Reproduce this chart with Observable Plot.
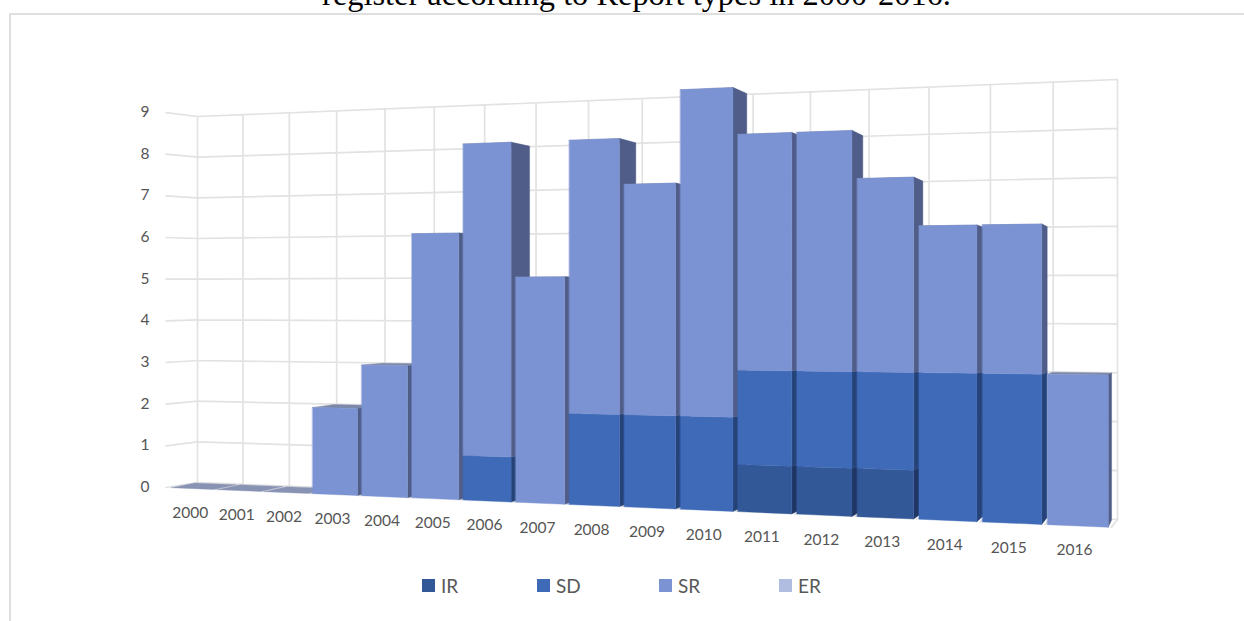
<!DOCTYPE html>
<html>
<head>
<meta charset="utf-8">
<script src="https://cdn.jsdelivr.net/npm/d3@7"></script>
<script src="https://cdn.jsdelivr.net/npm/@observablehq/plot@0.6"></script>
<style>
html,body{margin:0;padding:0;background:#fff;width:1244px;height:621px;overflow:hidden}
#page{position:relative;width:1244px;height:621px;overflow:hidden}
#frame{position:absolute;left:9px;top:13px;right:-5px;bottom:-5px;border-left:2px solid #dfdfdf;border-top:2px solid #dfdfdf}
#title{position:absolute;left:0;width:1273px;top:-24px;text-align:center;font:32.4px/36px "Liberation Serif",serif;color:#000;white-space:nowrap}
#chart{position:absolute;left:0;top:0}
#chart svg{display:block;background:transparent}
#legend{position:absolute;left:0;top:572px;width:1244px;height:30px;font:19px/28px Lato,sans-serif;color:#595959}
#legend span{position:absolute;top:0}
#legend i{position:absolute;top:7px;width:13px;height:13px}
</style>
</head>
<body>
<div id="page">
  <div id="frame"></div>
  <div id="title">register according to Report types in 2000-2016.</div>
  <div id="chart"></div>
  <div id="legend"></div>
</div>
<script>
const years = [2000,2001,2002,2003,2004,2005,2006,2007,2008,2009,2010,2011,2012,2013,2014,2015,2016];
const IR    = [0,0,0,0,0,0,0,0,0,0,0,1,1,1,0,0,0];
const SD    = [0,0,0,0,0,0,1,0,2,2,2,2,2,2,3,3,0];
const SR    = [0,0,0,2,3,6,7,5,6,5,7,5,5,4,3,3,3];
const ER    = [0,0,0,0,0,0,0,0,0,0,0,0,0,0,0,0,0];
const valueTicks = [0,1,2,3,4,5,6,7,8,9];
const seriesNames = ["IR","SD","SR","ER"];
const seriesValues = [IR,SD,SR,ER];
const frontColors = ["#335897","#3e6ab8","#7b93d2","#b0bde0"];
const sideColors  = ["#1f3664","#254379","#4f5d88","#7a86a8"];
const topColor = "#7d89aa";
const slabColor = "#8893b4";
const gridColor = "#e2e2e2";

// perspective camera: a plane homography for the front of the bars and one for the back wall
function quad(p00,p10,p11,p01){
  const [x0,y0]=p00,[x1,y1]=p10,[x2,y2]=p11,[x3,y3]=p01;
  const dx1=x1-x2,dx2=x3-x2,sx=x0-x1+x2-x3,dy1=y1-y2,dy2=y3-y2,sy=y0-y1+y2-y3;
  const den=dx1*dy2-dx2*dy1,g=(sx*dy2-dx2*sy)/den,h=(dx1*sy-sx*dy1)/den;
  const a=x1-x0+g*x1,b=x3-x0+h*x3,d=y1-y0+g*y1,e=y3-y0+h*y3;
  return (s,t)=>{const w=g*s+h*t+1;return [(a*s+b*t+x0)/w,(d*s+e*t+y0)/w];};
}
const nU = years.length, vMax = 9;
const front = quad([171,487.2],[1113.5,527],[1113.5,70],[171,111.8]);
const back  = quad([197,482],[1117,519],[1117,79],[197,116]);
const camera = d3.geoTransform({
  point(u,v,z){
    const f=front(u/nU,v/vMax), b=back(u/nU,v/vMax), k=z||0;
    this.stream.point(f[0]+(b[0]-f[0])*k, f[1]+(b[1]-f[1])*k);
  }
});

const barWidth = 0.915, barDepth = 0.9;
const poly=(pts,color)=>({type:"Feature",properties:{color},geometry:{type:"Polygon",coordinates:[[...pts,pts[0]]]}});
const faces=[];
years.forEach((y,i)=>{
  const u0=i,u1=i+barWidth;
  let base=0;
  const total=d3.sum(seriesValues,s=>s[i]);
  if(total===0){
    faces.push(poly([[u0,0,0],[u1,0,0],[u1,0,barDepth],[u0,0,barDepth]],slabColor));
    return;
  }
  seriesValues.forEach((s,k)=>{
    const val=s[i]; if(!val) return;
    const v0=base,v1=base+val; base=v1;
    if(v1===total) faces.push(poly([[u0,v1,0],[u1,v1,0],[u1,v1,barDepth],[u0,v1,barDepth]],topColor));
    faces.push(poly([[u1,v0,0],[u1,v0,barDepth],[u1,v1,barDepth],[u1,v1,0]],sideColors[k]));
    faces.push(poly([[u0,v0,0],[u1,v0,0],[u1,v1,0],[u0,v1,0]],frontColors[k]));
  });
});

const uEdges=d3.range(nU+1);
const wallLines=[
  ...valueTicks.map(v=>[[0,v,1],[nU,v,1]]),
  ...uEdges.map(u=>[[u,0,1],[u,vMax,1]])
];
const sideLines=[
  ...valueTicks.map(v=>[[-0.12,v,0],[0,v,1]]),
  ...uEdges.slice(1).map(u=>[[u-0.04,0,0],[u,0,1]])
];
const toLines=(ls)=>({type:"MultiLineString",coordinates:ls});

const plot = Plot.plot({
  width:1244, height:570, margin:0,
  projection:camera,
  style:{background:"transparent"},
  marks:[
    Plot.geo([toLines(wallLines)],{stroke:gridColor,strokeWidth:1.7,fill:"none"}),
    Plot.geo([toLines(sideLines)],{stroke:gridColor,strokeWidth:1.7,fill:"none"}),
    Plot.geo(faces,{fill:d=>d.properties.color,stroke:d=>d.properties.color,strokeWidth:0.4}),
    Plot.text(years,{x:(d,i)=>i+0.41,y:()=>0,text:d=>String(d),dy:24.5,fontFamily:"Lato",fontSize:15.5,fill:"#555555"}),
    Plot.text(valueTicks,{x:()=>-0.12,y:d=>d,text:d=>String(d),dx:-21,dy:-0.5,fontFamily:"Lato",fontSize:15.5,fill:"#555555"})
  ]
});
document.getElementById("chart").appendChild(plot);

const swatchLeft=[422,537,659,779];
const legend=document.getElementById("legend");
seriesNames.forEach((n,i)=>{
  const sw=document.createElement("i");
  sw.style.left=swatchLeft[i]+"px"; sw.style.background=frontColors[i]; legend.appendChild(sw);
  const t=document.createElement("span");
  t.style.left=(swatchLeft[i]+19)+"px"; t.textContent=n; legend.appendChild(t);
});
</script>
</body>
</html>
